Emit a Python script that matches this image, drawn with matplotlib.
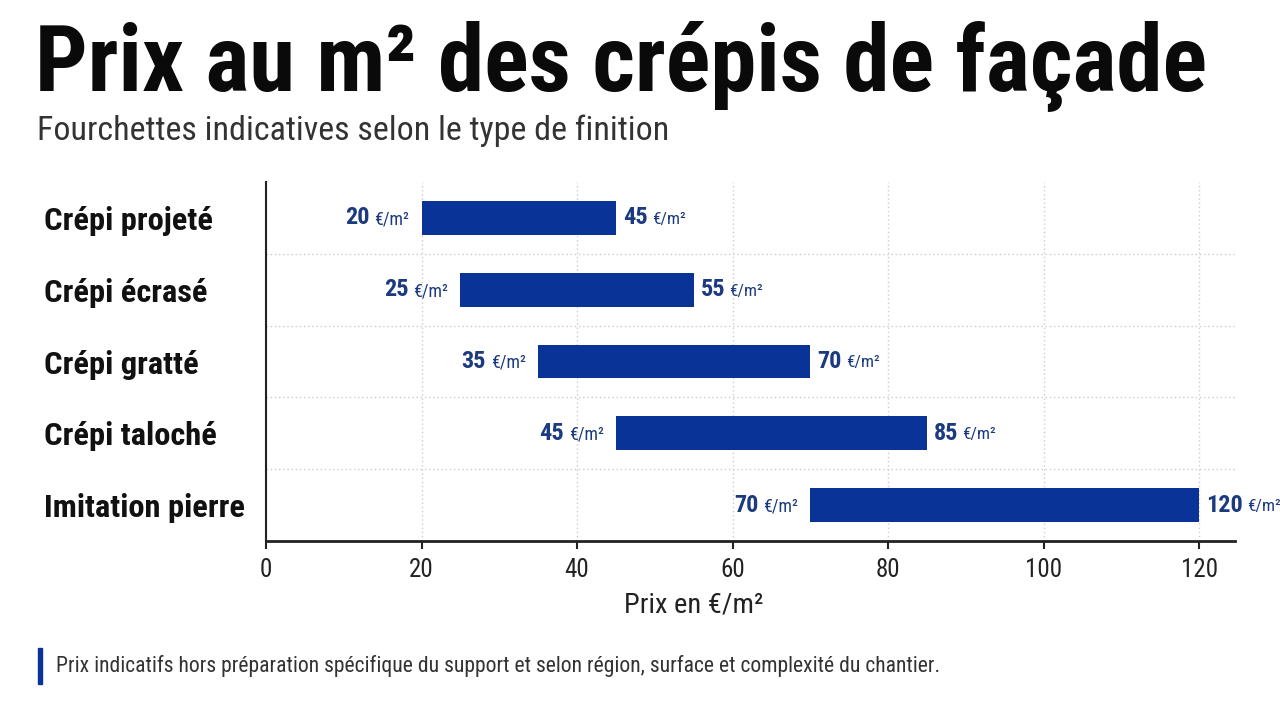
import matplotlib
matplotlib.use("Agg")
import matplotlib.pyplot as plt

categories = ["Crépi projeté", "Crépi écrasé", "Crépi gratté", "Crépi taloché", "Imitation pierre"]
price_min = [20, 25, 35, 45, 70]
price_max = [45, 55, 70, 85, 120]
x_ticks = [0, 20, 40, 60, 80, 100, 120]

title = "Prix au m² des crépis de façade"
subtitle = "Fourchettes indicatives selon le type de finition"
xlabel = "Prix en €/m²"
footnote = "Prix indicatifs hors préparation spécifique du support et selon région, surface et complexité du chantier."
unit = "€/m²"

NARROW = ["Roboto Condensed", "Roboto", "DejaVu Sans"]
BAR = "#0A3397"
LBL = "#1C3A80"

fig = plt.figure(figsize=(12.8, 7.02), dpi=100)
ax = fig.add_axes([266/1280, 1-541/702, (1235-266)/1280, (541-182)/702])

y = list(range(len(categories)))
widths = [b - a for a, b in zip(price_min, price_max)]
ax.barh(y, widths, left=price_min, height=0.47, color=BAR, zorder=3)

ax.set_ylim(len(categories) - 0.5, -0.5)
ax.set_xlim(0, 124.6)
ax.set_xticks(x_ticks)
ax.set_xticklabels([str(t) for t in x_ticks], family=NARROW, fontsize=18, color="#222222")
ax.set_yticks(y)
ax.set_yticklabels(categories, family=NARROW, fontsize=23.4, fontweight="bold", color="#111111")
ax.tick_params(axis="y", which="major", length=0, pad=160)
for lab in ax.get_yticklabels():
    lab.set_horizontalalignment("left")
ax.tick_params(axis="x", length=6, width=1.5, color="#222222", pad=6)
ax.set_yticks([i + 0.5 for i in range(len(categories) - 1)], minor=True)
ax.tick_params(axis="y", which="minor", length=0)

ax.grid(axis="x", which="major", color="#cccccc", linestyle=(0, (1, 2)), linewidth=1, zorder=0)
ax.grid(axis="y", which="minor", color="#cccccc", linestyle=(0, (1, 2)), linewidth=1, zorder=0)
ax.grid(axis="y", which="major", visible=False)

for s in ["top", "right"]:
    ax.spines[s].set_visible(False)
ax.spines["left"].set_color("#222222")
ax.spines["left"].set_linewidth(1.5)
ax.spines["bottom"].set_color("#222222")
ax.spines["bottom"].set_linewidth(2)

for yi, lo, hi in zip(y, price_min, price_max):
    u = ax.annotate(unit, xy=(lo, yi), xytext=(-9, -1), textcoords="offset points",
                    ha="right", va="center", family=NARROW, fontsize=13, color=LBL)
    ax.annotate(f"{lo}", xy=(0, 0.5), xycoords=u, xytext=(-3.5, 1), textcoords="offset points",
                ha="right", va="center", family=NARROW, fontsize=17.5, fontweight="bold", color=LBL)
    t = ax.annotate(f"{hi}", xy=(hi, yi), xytext=(5, 0), textcoords="offset points",
                    ha="left", va="center", family=NARROW, fontsize=17.5, fontweight="bold", color=LBL)
    ax.annotate(unit, xy=(1, 0.5), xycoords=t, xytext=(3, -1), textcoords="offset points",
                ha="left", va="center", family=NARROW, fontsize=12.5, color=LBL)

fig.text(694/1280, 1-605/702, xlabel, ha="center", va="center", family=NARROW, fontsize=20.5, color="#222222")

fig.text(35/1280, 1-91/702, title, ha="left", va="baseline", family=NARROW, fontsize=67,
         fontweight="black", color="#0a0a0a")
fig.text(37/1280, 1-131/702, subtitle, ha="left", va="center", family=NARROW, fontsize=24.5, color="#333333")

fig.patches.append(plt.Rectangle((38/1280, 1-684/702), 4/1280, 36/702, transform=fig.transFigure,
                                 color=BAR, figure=fig))
fig.text(56/1280, 1-666/702, footnote, ha="left", va="center", family=NARROW, fontsize=15.6, color="#333333")

fig.savefig("out.png", dpi=100, facecolor="white")
